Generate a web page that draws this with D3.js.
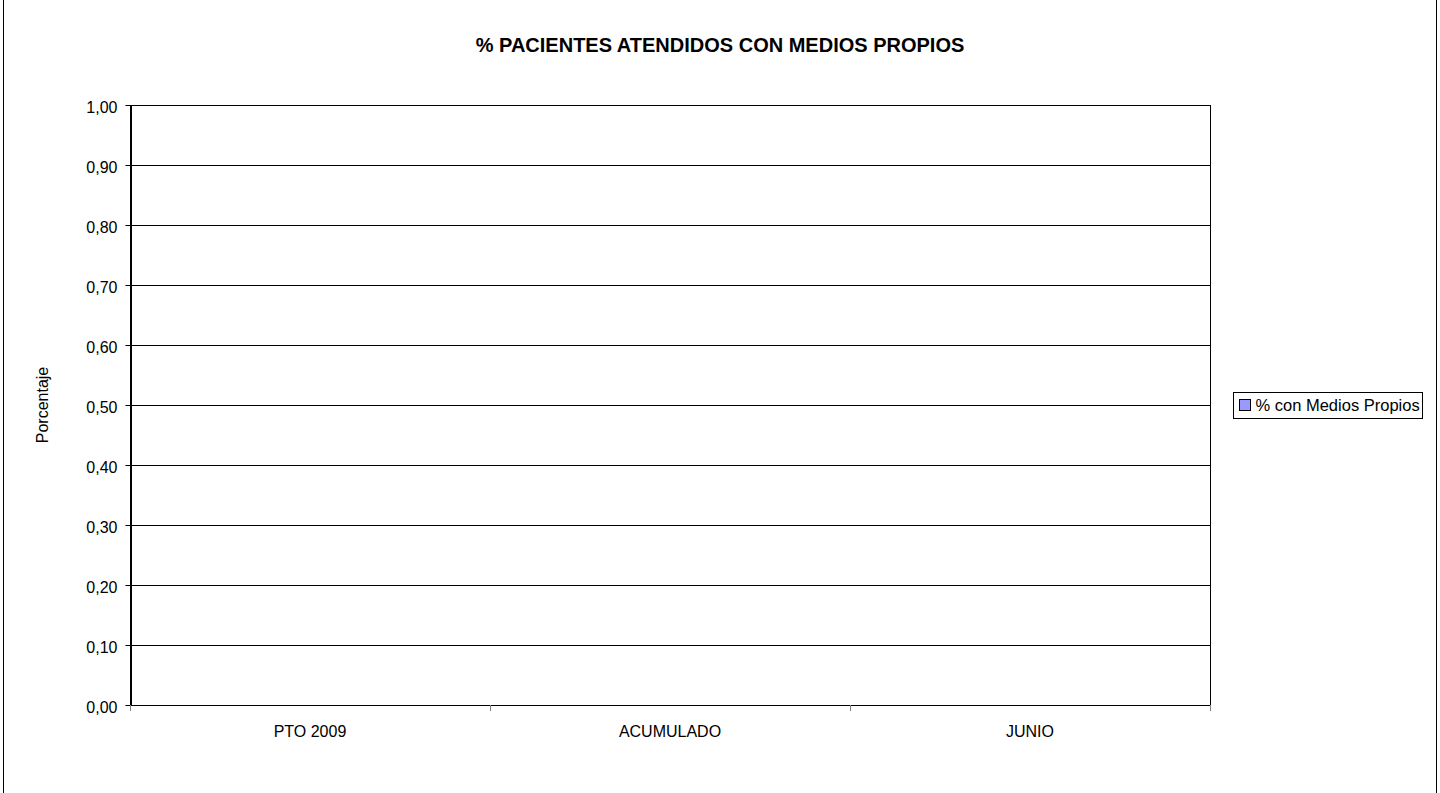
<!DOCTYPE html>
<html>
<head>
<meta charset="utf-8">
<script src="https://cdn.jsdelivr.net/npm/d3@7"></script>
<style>
  html, body { margin: 0; padding: 0; background: #fff; }
  svg { display: block; font-family: "Liberation Sans", Arial, sans-serif; }
</style>
</head>
<body>
<svg id="chart" width="1440" height="793"></svg>
<script>
// Chart data
const categories = ["PTO 2009", "ACUMULADO", "JUNIO"];
const seriesName = "% con Medios Propios";
const seriesValues = [0, 0, 0];
const yTicks = [0, 0.1, 0.2, 0.3, 0.4, 0.5, 0.6, 0.7, 0.8, 0.9, 1.0];

const svg = d3.select("#chart");
const W = 1440, H = 793;
const plot = { left: 130, right: 1210, top: 105, bottom: 705 };
const FONT = "Liberation Sans, Arial, sans-serif";

// Outer chart-area frame (runs past the top and bottom of the window)
svg.append("rect")
  .attr("x", 3.5).attr("y", -20)
  .attr("width", 1433).attr("height", H + 40)
  .attr("fill", "#fff").attr("stroke", "#000").attr("stroke-width", 1);

// Title, centred on the whole chart area
svg.append("text")
  .attr("x", 720).attr("y", 52)
  .attr("text-anchor", "middle")
  .attr("font-size", 20).attr("font-weight", "bold")
  .text("% PACIENTES ATENDIDOS CON MEDIOS PROPIOS");

const x = d3.scaleBand().domain(categories).range([plot.left, plot.right]).paddingInner(0.5).paddingOuter(0.25);
const xEdge = d3.scalePoint().domain(d3.range(categories.length + 1)).range([plot.left, plot.right]);
const y = d3.scaleLinear().domain([0, 1]).range([plot.bottom, plot.top]);

// Gridlines
svg.append("g").selectAll("line").data(yTicks.filter(d => d > 0)).join("line")
  .attr("x1", plot.left).attr("x2", plot.right)
  .attr("y1", d => Math.round(y(d)) + 0.5).attr("y2", d => Math.round(y(d)) + 0.5)
  .attr("stroke", "#000").attr("stroke-width", 1);

// Right edge of plot area
svg.append("line")
  .attr("x1", plot.right + 0.5).attr("x2", plot.right + 0.5)
  .attr("y1", plot.top).attr("y2", plot.bottom)
  .attr("stroke", "#000");

// Bars
svg.append("g").selectAll("rect").data(seriesValues).join("rect")
  .attr("x", (d, i) => x(categories[i]))
  .attr("width", x.bandwidth())
  .attr("y", d => y(d))
  .attr("height", d => y(0) - y(d))
  .attr("fill", "#9999FF").attr("stroke", "#000");

// Y axis
const yAxis = svg.append("g")
  .attr("transform", `translate(${plot.left + 0.5},0)`)
  .call(d3.axisLeft(y).tickValues(yTicks).tickSize(5).tickSizeOuter(0)
    .tickFormat(d => d3.format(".2f")(d).replace(".", ",")));
yAxis.attr("font-size", 16).attr("font-family", FONT);
yAxis.select(".domain").attr("stroke", "#000").attr("stroke-width", 2);
yAxis.selectAll(".tick line").attr("stroke", "#000");
yAxis.selectAll("text").attr("fill", "#000").attr("x", -13).attr("dy", "0.45em");

// X axis baseline and category separators
svg.append("line")
  .attr("x1", plot.left).attr("x2", plot.right)
  .attr("y1", plot.bottom + 0.5).attr("y2", plot.bottom + 0.5)
  .attr("stroke", "#000");
svg.append("g").selectAll("line").data(xEdge.domain()).join("line")
  .attr("x1", d => Math.round(xEdge(d)) + 0.5).attr("x2", d => Math.round(xEdge(d)) + 0.5)
  .attr("y1", plot.bottom).attr("y2", plot.bottom + 6)
  .attr("stroke", "#808080");
svg.append("g").selectAll("text").data(categories).join("text")
  .attr("x", d => x(d) + x.bandwidth() / 2)
  .attr("y", plot.bottom + 32)
  .attr("text-anchor", "middle")
  .attr("font-size", 16)
  .text(d => d);

// Y axis title
svg.append("text")
  .attr("transform", `translate(48,${(plot.top + plot.bottom) / 2}) rotate(-90)`)
  .attr("text-anchor", "middle")
  .attr("font-size", 16)
  .text("Porcentaje");

// Legend
const lg = svg.append("g").attr("transform", "translate(1233.5,392.5)");
lg.append("rect").attr("width", 189).attr("height", 26)
  .attr("fill", "#fff").attr("stroke", "#000");
lg.append("rect").attr("x", 6).attr("y", 7).attr("width", 11).attr("height", 11)
  .attr("fill", "#9999FF").attr("stroke", "#000");
lg.append("text").attr("x", 22).attr("y", 18.5).attr("font-size", 16.5)
  .text(seriesName);
</script>
</body>
</html>
